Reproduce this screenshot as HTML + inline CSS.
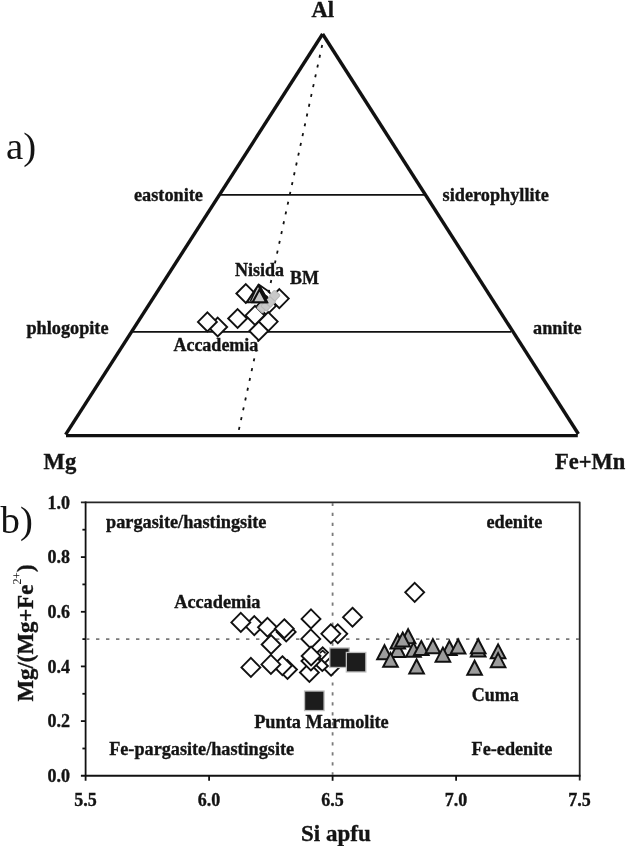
<!DOCTYPE html>
<html><head><meta charset="utf-8"><style>
html,body{margin:0;padding:0;background:#fff;}
svg{display:block;will-change:transform;filter:blur(0.3px);}
text{font-family:"Liberation Serif",serif;font-weight:bold;fill:#141414;stroke:#141414;stroke-width:0.35px;}
</style></head><body>
<svg width="627" height="846" viewBox="0 0 627 846">
<defs>
<path id="dm" d="M0,-9.45 L9.45,0 L0,9.45 L-9.45,0 Z" fill="#fff" stroke="#111" stroke-width="1.9"/>
<path id="tr" d="M0,-14 L7.3,0 L-7.3,0 Z" fill="#9c9c9c" stroke="#111" stroke-width="2" stroke-linejoin="miter"/>
<path id="trl" d="M0,-14 L7.3,0 L-7.3,0 Z" fill="#c8c8c8" stroke="#111" stroke-width="2"/>
</defs>

<g stroke="#111" fill="none">
<line x1="66" y1="435.6" x2="577.8" y2="435.6" stroke-width="3.1"/>
<line x1="65.6" y1="434.6" x2="322.6" y2="34" stroke-width="3.4"/>
<line x1="322.6" y1="34" x2="578.4" y2="434" stroke-width="3.4"/>
<line x1="219" y1="194.9" x2="427" y2="194.9" stroke-width="1.6"/>
<line x1="133" y1="331.9" x2="511" y2="331.9" stroke-width="1.6"/>
<line x1="322.2" y1="45" x2="238.4" y2="432" stroke-width="1.8" stroke-dasharray="3 7.02"/>
</g>
<text x="311.4" y="16.6" font-size="22.5">Al</text>
<text x="6" y="158.7" font-size="38.8" style="font-weight:normal;stroke:none">a)</text>
<text x="134" y="200.7" font-size="18.25">eastonite</text>
<text x="442.6" y="200.6" font-size="18.25">siderophyllite</text>
<text x="26.4" y="334" font-size="18.25">phlogopite</text>
<text x="533" y="333.9" font-size="18.25">annite</text>
<text x="235" y="275.7" font-size="18">Nisida</text>
<text x="290" y="283.7" font-size="18">BM</text>
<text x="173.4" y="350.5" font-size="18">Accademia</text>
<text x="43.6" y="469" font-size="22.7">Mg</text>
<text x="555" y="468.6" font-size="22.5">Fe+Mn</text>
<use href="#dm" x="217.7" y="327"/>
<use href="#dm" x="207.4" y="321.9"/>
<use href="#dm" x="237.6" y="318.5"/>
<use href="#dm" x="266.6" y="305.8"/>
<use href="#dm" x="279.3" y="298.6"/>
<use href="#dm" x="268.2" y="321.6"/>
<use href="#dm" x="258.8" y="331.0"/>
<use href="#dm" x="255.0" y="315.4"/>
<use href="#dm" x="245.8" y="293.5"/>
<rect x="258.40" y="303.70" width="7.8" height="7.8" rx="1.2" fill="#c9c9c9" stroke="#b9b9b9" stroke-width="1.1" transform="rotate(42 262.3 307.6)"/>
<rect x="262.40" y="301.90" width="7.8" height="7.8" rx="1.2" fill="#c9c9c9" stroke="#b9b9b9" stroke-width="1.1" transform="rotate(42 266.3 305.8)"/>
<rect x="266.40" y="297.90" width="7.8" height="7.8" rx="1.2" fill="#c9c9c9" stroke="#b9b9b9" stroke-width="1.1" transform="rotate(42 270.3 301.8)"/>
<rect x="270.85" y="291.70" width="7.8" height="7.8" rx="1.2" fill="#c9c9c9" stroke="#b9b9b9" stroke-width="1.1" transform="rotate(42 274.75 295.6)"/>
<path d="M258.3,284.2 L269.2,291.8 L270.2,293.6 M258.3,284.2 L266.8,298.6 M259.5,286.5 L247.5,302.6 M258.8,285 L249.5,302.6" stroke="#111" stroke-width="1.9" fill="none"/>
<path d="M258.3,285.2 L267.2,302.2 L246.8,302.2 Z" fill="#c8c8c8" stroke="#111" stroke-width="2"/>
<path d="M260.5,287.8 L267.2,299 M256.5,288 L250.5,301" stroke="#111" stroke-width="1.6" fill="none"/>
<path d="M259.4,289.6 L266.2,302.3 L252.6,302.3 Z" fill="#c8c8c8" stroke="#111" stroke-width="2.1"/>
<g stroke="#111" fill="none">
<path d="M80.9,502.4 L579.7,502.4 L579.7,780.6" stroke="#262626" stroke-width="1.8" stroke-linejoin="round"/>
<line x1="85.6" y1="501.5" x2="85.6" y2="780.8" stroke-width="1.8"/>
<line x1="80.9" y1="775.8" x2="580.5" y2="775.8" stroke-width="2"/>
<line x1="80.9" y1="721.1" x2="85.6" y2="721.1" stroke-width="1.8"/>
<line x1="80.9" y1="666.4" x2="85.6" y2="666.4" stroke-width="1.8"/>
<line x1="80.9" y1="611.8" x2="85.6" y2="611.8" stroke-width="1.8"/>
<line x1="80.9" y1="557.1" x2="85.6" y2="557.1" stroke-width="1.8"/>
<line x1="82.4" y1="748.5" x2="85.6" y2="748.5" stroke-width="1.8"/>
<line x1="82.4" y1="693.8" x2="85.6" y2="693.8" stroke-width="1.8"/>
<line x1="82.4" y1="639.1" x2="85.6" y2="639.1" stroke-width="1.8"/>
<line x1="82.4" y1="584.4" x2="85.6" y2="584.4" stroke-width="1.8"/>
<line x1="82.4" y1="529.7" x2="85.6" y2="529.7" stroke-width="1.8"/>
<line x1="209.1" y1="775.8" x2="209.1" y2="780.8" stroke-width="1.8"/>
<line x1="332.6" y1="775.8" x2="332.6" y2="780.8" stroke-width="1.8"/>
<line x1="456.1" y1="775.8" x2="456.1" y2="780.8" stroke-width="1.8"/>
</g>
<g stroke="#7a7a7a" stroke-width="1.8" fill="none">
<line x1="86" y1="639.2" x2="579" y2="639.2" stroke-dasharray="3.4 6.6"/>
<line x1="332.6" y1="502.9" x2="332.6" y2="775" stroke-dasharray="3.2 6.78" stroke-dashoffset="0.15"/>
</g>
<text x="47.5" y="508.7" font-size="18">1.0</text>
<text x="47.5" y="563.4" font-size="18">0.8</text>
<text x="47.5" y="618.1" font-size="18">0.6</text>
<text x="47.5" y="672.7" font-size="18">0.4</text>
<text x="47.5" y="727.4" font-size="18">0.2</text>
<text x="47.5" y="782.1" font-size="18">0.0</text>
<text x="85.6" y="805.8" font-size="18" text-anchor="middle">5.5</text>
<text x="209.1" y="805.8" font-size="18" text-anchor="middle">6.0</text>
<text x="332.6" y="805.8" font-size="18" text-anchor="middle">6.5</text>
<text x="456.1" y="805.8" font-size="18" text-anchor="middle">7.0</text>
<text x="579.6" y="805.8" font-size="18" text-anchor="middle">7.5</text>
<text x="0.5" y="532.7" font-size="38.8" style="font-weight:normal;stroke:none">b)</text>
<text x="106" y="528.1" font-size="18.3">pargasite/hastingsite</text>
<text x="486.5" y="527.5" font-size="18.25">edenite</text>
<text x="174.2" y="607.5" font-size="18.3">Accademia</text>
<text x="254.2" y="727.7" font-size="18.3">Punta Marmolite</text>
<text x="471.7" y="700.7" font-size="18">Cuma</text>
<text x="109.2" y="755.1" font-size="18.2">Fe-pargasite/hastingsite</text>
<text x="471.6" y="755.1" font-size="18.2">Fe-edenite</text>
<text x="301" y="841.3" font-size="23">Si apfu</text>
<text transform="translate(33,701.4) rotate(-90)" font-size="22.8">Mg/(Mg+Fe<tspan dy="-11.8" font-size="11.9" style="font-weight:normal;stroke:none">2+</tspan><tspan dy="11.8">)</tspan></text>
<use href="#dm" x="254.3" y="625.6"/>
<use href="#dm" x="240.8" y="622.4"/>
<use href="#dm" x="267.5" y="627.3"/>
<use href="#dm" x="286.2" y="631.9"/>
<use href="#dm" x="284.3" y="628.7"/>
<use href="#dm" x="271.1" y="644.5"/>
<use href="#dm" x="287.5" y="669.5"/>
<use href="#dm" x="282.4" y="665.7"/>
<use href="#dm" x="250.9" y="667.4"/>
<use href="#dm" x="270.9" y="664.4"/>
<use href="#dm" x="311.0" y="618.9"/>
<use href="#dm" x="310.8" y="638.9"/>
<use href="#dm" x="337.8" y="633.8"/>
<use href="#dm" x="330.8" y="633.8"/>
<use href="#dm" x="352.5" y="617.2"/>
<use href="#dm" x="331.05" y="666.2"/>
<path d="M320.6,658.8 L327.9,666 L322.3,671 L315,664 Z" fill="#fff" stroke="#111" stroke-width="1.9"/>
<path d="M322.7,647.4 L328,652.6 L321.3,659.6 L316.5,653.2 Z" fill="#fff" stroke="#111" stroke-width="1.9"/>
<path d="M319.8,653.2 L322.7,650.6 L325.6,653.4" fill="none" stroke="#111" stroke-width="1.6"/>
<use href="#dm" x="309.4" y="672.5"/>
<use href="#dm" x="310.9" y="661"/>
<use href="#dm" x="311.1" y="656"/>
<use href="#dm" x="414.7" y="592.35"/>
<rect x="329.75" y="647.95" width="19.5" height="19.5" fill="#1c1c1c" stroke="#bdbdbd" stroke-width="1.3"/>
<rect x="346.35" y="652.45" width="19.5" height="19.5" fill="#1c1c1c" stroke="#bdbdbd" stroke-width="1.3"/>
<rect x="304.55" y="691.05" width="19.5" height="19.5" fill="#1c1c1c" stroke="#bdbdbd" stroke-width="1.3"/>
<use href="#tr" x="397.8" y="657.04"/>
<use href="#tr" x="384.5" y="659.24"/>
<use href="#tr" x="397.8" y="648.44"/>
<use href="#tr" x="408.1" y="643.24"/>
<use href="#tr" x="402.7" y="646.54"/>
<use href="#tr" x="390.5" y="666.84"/>
<use href="#tr" x="413.5" y="656.64"/>
<use href="#tr" x="421.3" y="655.04"/>
<use href="#tr" x="416.6" y="673.44"/>
<use href="#tr" x="432.9" y="653.24"/>
<use href="#tr" x="449.4" y="654.94"/>
<use href="#tr" x="442.9" y="661.64"/>
<use href="#tr" x="458.1" y="653.44"/>
<use href="#tr" x="478.2" y="656.54"/>
<use href="#tr" x="478.2" y="653.24"/>
<use href="#tr" x="474.6" y="674.74"/>
<use href="#tr" x="498.1" y="658.34"/>
<use href="#tr" x="498.1" y="667.14"/>
</svg></body></html>
